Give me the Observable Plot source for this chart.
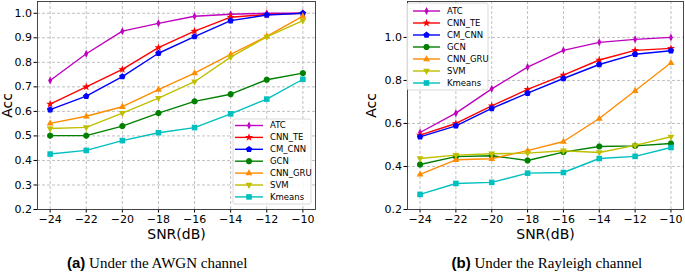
<!DOCTYPE html>
<html>
<head>
<meta charset="utf-8">
<script src="https://cdn.jsdelivr.net/npm/d3@7"></script>
<script src="https://cdn.jsdelivr.net/npm/@observablehq/plot@0.6"></script>
<style>
  body { margin: 0; background: #fff; }
  #fig { position: relative; width: 685px; height: 274px; background: #fff; overflow: hidden; }
  .panel { position: absolute; top: 0; }
  .panel svg { overflow: visible; }
  .panel g[aria-label="x-axis label"] text, .panel g[aria-label="y-axis label"] text { font-size: 14px; }
  .cap { position: absolute; top: 254px; white-space: nowrap; font-family: "Liberation Serif", "Times New Roman", serif; font-size: 15px; color: #000; }
  .cap b { font-family: "Liberation Sans", Arial, sans-serif; font-weight: bold; }
</style>
</head>
<body>
<div id="fig">
  <div id="pa" class="panel" style="left:0px"></div>
  <div id="pb" class="panel" style="left:340px"></div>
  <div class="cap" id="capA"><b>(a)</b> Under the AWGN channel</div>
  <div class="cap" id="capB"><b>(b)</b> Under the Rayleigh channel</div>
</div>
<script>
// ---------- data ----------
const snr = [-24, -22, -20, -18, -16, -14, -12, -10];
const seriesNames = ["ATC", "CNN_TE", "CM_CNN", "GCN", "CNN_GRU", "SVM", "Kmeans"];

// (a) AWGN channel
const awgnATC    = [0.726, 0.835, 0.927, 0.959, 0.988, 0.996, 1.000, 1.000];
const awgnCNN_TE = [0.630, 0.700, 0.771, 0.860, 0.927, 0.984, 0.995, 1.000];
const awgnCM_CNN = [0.607, 0.662, 0.742, 0.837, 0.905, 0.970, 0.993, 1.000];
const awgnGCN    = [0.501, 0.501, 0.540, 0.593, 0.641, 0.670, 0.729, 0.756];
const awgnCNN_GRU= [0.551, 0.580, 0.619, 0.689, 0.756, 0.832, 0.906, 0.988];
const awgnSVM    = [0.530, 0.535, 0.593, 0.654, 0.721, 0.821, 0.904, 0.970];
const awgnKmeans = [0.426, 0.441, 0.481, 0.513, 0.534, 0.590, 0.650, 0.731];

// (b) Rayleigh channel
const rayATC     = [0.558, 0.648, 0.761, 0.862, 0.940, 0.977, 0.991, 1.000];
const rayCNN_TE  = [0.546, 0.600, 0.682, 0.758, 0.825, 0.895, 0.940, 0.949];
const rayCM_CNN  = [0.538, 0.589, 0.670, 0.741, 0.809, 0.874, 0.922, 0.938];
const rayGCN     = [0.409, 0.446, 0.450, 0.428, 0.467, 0.493, 0.496, 0.507];
const rayCNN_GRU = [0.363, 0.431, 0.436, 0.474, 0.516, 0.623, 0.752, 0.882];
const raySVM     = [0.437, 0.453, 0.459, 0.462, 0.473, 0.465, 0.498, 0.538];
const rayKmeans  = [0.270, 0.321, 0.326, 0.369, 0.372, 0.437, 0.447, 0.488];

const awgnYTicks = [0.2, 0.3, 0.4, 0.5, 0.6, 0.7, 0.8, 0.9, 1.0];
const rayYTicks  = [0.2, 0.4, 0.6, 0.8, 1.0];

// ---------- styles ----------
const colors = ["#bf00bf", "#ff0000", "#0000ff", "#008000", "#ff8c00", "#bfbf00", "#00bfbf"];

function poly(pts) {
  return {
    draw(ctx, size) {
      const r = Math.sqrt(size / Math.PI);
      pts.forEach(([x, y], i) => i ? ctx.lineTo(x * r, y * r) : ctx.moveTo(x * r, y * r));
      ctx.closePath();
    }
  };
}
const ring = (n, ro, ri, rot) => {
  const pts = [];
  const k = ri == null ? n : 2 * n;
  for (let i = 0; i < k; i++) {
    const a = rot + i * 2 * Math.PI / k;
    const rr = (ri != null && i % 2) ? ri : ro;
    pts.push([rr * Math.cos(a), rr * Math.sin(a)]);
  }
  return pts;
};
const symThinDiamond = poly([[0, -1.3], [0.65, 0], [0, 1.3], [-0.65, 0]]);
const symStar = poly(ring(5, 1.35, 0.55, -Math.PI / 2));
const symPentagon = poly(ring(5, 1.1, null, -Math.PI / 2));
const symCircle = poly(ring(24, 1.0, null, 0));
const symTriUp = poly([[0, -1.25], [1.1, 0.7], [-1.1, 0.7]]);
const symTriDown = poly([[0, 1.25], [1.1, -0.7], [-1.1, -0.7]]);
const symSquare = poly([[-0.9, -0.9], [0.9, -0.9], [0.9, 0.9], [-0.9, 0.9]]);
const symbols = [symThinDiamond, symStar, symPentagon, symCircle, symTriUp, symTriDown, symSquare];

const fmtMinus = d => d < 0 ? "\u2212" + Math.abs(d) : String(d);

function rows(values) { return snr.map((s, i) => ({snr: s, acc: values[i]})); }

function makePanel(opts) {
  const marks = [
    Plot.gridX(snr, {stroke: "#b0b0b0", strokeOpacity: 1, strokeDasharray: "3,2", strokeWidth: 0.8}),
    Plot.gridY(opts.yTicks, {stroke: "#b0b0b0", strokeOpacity: 1, strokeDasharray: "3,2", strokeWidth: 0.8})
  ];
  opts.series.forEach((vals, i) => {
    const data = rows(vals);
    marks.push(Plot.line(data, {x: "snr", y: "acc", stroke: colors[i], strokeWidth: 1.4}));
    marks.push(Plot.dot(data, {x: "snr", y: "acc", symbol: symbols[i], fill: colors[i], stroke: "none", r: 3.1}));
  });
  marks.push(Plot.frame({stroke: "#333", strokeWidth: 0.9}));
  const chart = Plot.plot({
    width: opts.width,
    height: 240,
    marginLeft: opts.marginLeft,
    marginRight: opts.marginRight,
    marginTop: 1,
    marginBottom: 31,
    style: {fontFamily: "DejaVu Sans", fontSize: "11px", color: "#000", background: "transparent"},
    x: {domain: [-24.7, -9.3], ticks: snr, tickFormat: fmtMinus, tickSize: 3.5, tickPadding: 2,
        label: "SNR(dB)", labelAnchor: "center", labelArrow: "none", labelOffset: 29},
    y: {domain: opts.yDomain, ticks: opts.yTicks, tickFormat: d => d.toFixed(1), tickSize: 3.5, tickPadding: 2,
        label: "Acc", labelAnchor: "center", labelArrow: "none", labelOffset: opts.yLabelOffset},
    marks
  });
  // legend
  const svg = d3.select(chart.tagName.toLowerCase() === "svg" ? chart : chart.querySelector("svg"));
  const L = opts.legend;
  const g = svg.append("g").attr("class", "legend").attr("text-anchor", "start");
  g.append("rect").attr("x", L.x0).attr("y", L.y0).attr("width", L.x1 - L.x0).attr("height", L.y1 - L.y0)
    .attr("rx", 2).attr("fill", "#fff").attr("fill-opacity", 0.85).attr("stroke", "#d0d0d0").attr("stroke-width", 0.8);
  seriesNames.forEach((name, i) => {
    const y = L.rowY + i * L.step;
    g.append("line").attr("x1", L.lx0).attr("x2", L.lx1).attr("y1", y).attr("y2", y)
      .attr("stroke", colors[i]).attr("stroke-width", 1.4);
    g.append("path").attr("transform", `translate(${(L.lx0 + L.lx1) / 2},${y})`)
      .attr("d", d3.symbol().type(symbols[i]).size(Math.PI * 3.1 * 3.1)()).attr("fill", colors[i]);
    g.append("text").attr("x", L.tx).attr("y", y).attr("dy", "0.35em").attr("text-anchor", "start")
      .attr("font-family", "DejaVu Sans").attr("font-size", "8.5px").attr("fill", "#000").text(name);
  });
  return chart;
}

const chartA = makePanel({
  width: 340, marginLeft: 37, marginRight: 25, yDomain: [0.2, 1.048], yTicks: awgnYTicks, yLabelOffset: 35,
  series: [awgnATC, awgnCNN_TE, awgnCM_CNN, awgnGCN, awgnCNN_GRU, awgnSVM, awgnKmeans],
  legend: {x0: 233, x1: 311, y0: 119, y1: 204, rowY: 125.5, step: 11.9, lx0: 235, lx1: 263, tx: 270}
});
const chartB = makePanel({
  width: 345, marginLeft: 67, marginRight: 2, yDomain: [0.2, 1.167], yTicks: rayYTicks, yLabelOffset: 41,
  series: [rayATC, rayCNN_TE, rayCM_CNN, rayGCN, rayCNN_GRU, raySVM, rayKmeans],
  legend: {x0: 67, x1: 148, y0: 3, y1: 90, rowY: 11, step: 12.0, lx0: 73, lx1: 100, tx: 107}
});
document.getElementById("pa").appendChild(chartA);
document.getElementById("pb").appendChild(chartB);

// captions centered
function center(id, cx) {
  const el = document.getElementById(id);
  el.style.left = (cx - el.offsetWidth / 2) + "px";
}
center("capA", 157);
center("capB", 547);
</script>
</body>
</html>
